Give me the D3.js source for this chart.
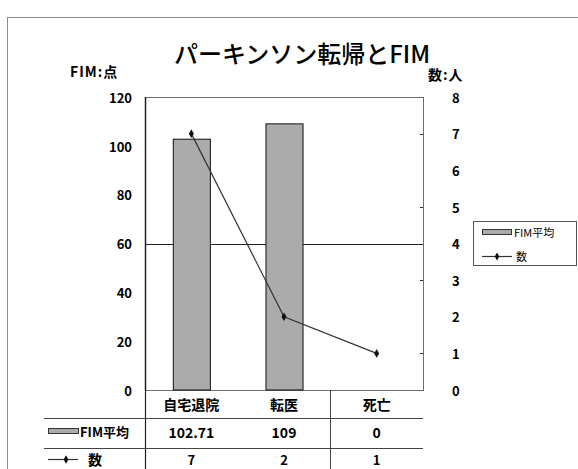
<!DOCTYPE html>
<html>
<head>
<meta charset="utf-8">
<script src="https://cdn.jsdelivr.net/npm/d3@7"></script>
<style>
  html, body { margin: 0; padding: 0; background: #fff; }
  svg { display: block; }
  text { font-family: "Noto Sans CJK JP", "Liberation Sans", sans-serif; fill: #000; }
</style>
</head>
<body>
<svg id="chart" width="578" height="469"></svg>
<script>
// Outcome categories, mean FIM score (bars, left axis) and patient count (line, right axis)
const categories = ["自宅退院", "転医", "死亡"];
const fimMean = [102.71, 109, 0];
const counts = [7, 2, 1];
const fimLabels = ["102.71", "109", "0"];
const leftTicks = [0, 20, 40, 60, 80, 100, 120];
const rightTicks = [0, 1, 2, 3, 4, 5, 6, 7, 8];
const rightMinorTicks = [1, 3, 5, 7];
const refLine = [60];

const svg = d3.select("#chart");
const plot = { left: 145, right: 423, top: 97, bottom: 390 };

// Outer chart frame
svg.append("rect")
  .attr("x", 7.5).attr("y", 17.5)
  .attr("width", 600).attr("height", 500)
  .attr("fill", "#fff").attr("stroke", "#8a8a8a").attr("stroke-width", 1);

// Title and axis unit captions
svg.append("text").attr("x", 302).attr("y", 63)
  .attr("text-anchor", "middle").attr("font-size", 24).attr("font-weight", 500)
  .text("パーキンソン転帰とFIM");
svg.append("text").attr("x", 70).attr("y", 77)
  .attr("font-size", 14).attr("font-weight", 700).attr("letter-spacing", 1).text("FIM:点");
svg.append("text").attr("x", 428).attr("y", 80)
  .attr("font-size", 14).attr("font-weight", 700).attr("letter-spacing", 1).text("数:人");

const x = d3.scaleBand().domain(categories).range([plot.left, plot.right]).padding(0);
const yL = d3.scaleLinear().domain([0, 120]).range([plot.bottom, plot.top]);
const yR = d3.scaleLinear().domain([0, 8]).range([plot.bottom, plot.top]);

// Plot area
svg.append("rect")
  .attr("x", plot.left + 0.5).attr("y", plot.top + 0.5)
  .attr("width", plot.right - plot.left).attr("height", plot.bottom - plot.top)
  .attr("fill", "#fff").attr("stroke", "#6e6e6e").attr("stroke-width", 1);
svg.append("line")
  .attr("x1", plot.left + 0.5).attr("x2", plot.left + 0.5)
  .attr("y1", plot.top).attr("y2", plot.bottom)
  .attr("stroke", "#222").attr("stroke-width", 1.5);

// Reference line at FIM 60
svg.selectAll(".ref").data(refLine).enter().append("line")
  .attr("x1", plot.left).attr("x2", plot.right)
  .attr("y1", d => Math.round(yL(d)) + 0.5).attr("y2", d => Math.round(yL(d)) + 0.5)
  .attr("stroke", "#222").attr("stroke-width", 1);

// Left axis labels
const leftAxis = d3.axisLeft(yL).tickValues(leftTicks).tickSize(0).tickPadding(13);
const gL = svg.append("g").attr("transform", `translate(${plot.left},0)`).call(leftAxis);
gL.select(".domain").remove();
gL.selectAll("text").attr("font-size", 13).attr("font-weight", 700)
  .attr("font-family", "Liberation Sans, Arial, sans-serif").attr("dy", "0.4em");

// Right axis labels with short inner marks at odd values
const rightAxis = d3.axisRight(yR).tickValues(rightTicks).tickSize(0).tickPadding(29);
const gR = svg.append("g").attr("transform", `translate(${plot.right},0)`).call(rightAxis);
gR.select(".domain").remove();
gR.selectAll("text").attr("font-size", 13).attr("font-weight", 700)
  .attr("font-family", "Liberation Sans, Arial, sans-serif").attr("dy", "0.4em");
svg.selectAll(".rtick").data(rightMinorTicks).enter().append("line")
  .attr("x1", plot.right - 3).attr("x2", plot.right)
  .attr("y1", d => Math.round(yR(d)) + 0.5).attr("y2", d => Math.round(yR(d)) + 0.5)
  .attr("stroke", "#333").attr("stroke-width", 1);

// FIM mean bars
const bw = x.bandwidth();
svg.selectAll(".bar").data(categories).enter().append("rect")
  .attr("x", (d) => x(d) + bw * 0.3 + 0.5)
  .attr("y", (d, i) => yL(fimMean[i]))
  .attr("width", bw * 0.4)
  .attr("height", (d, i) => plot.bottom - yL(fimMean[i]))
  .attr("fill", "#ababab").attr("stroke", "#111").attr("stroke-width", 1)
  .style("display", (d, i) => fimMean[i] > 0 ? null : "none");

// Patient count line with markers
const pts = categories.map((c, i) => [x(c) + bw / 2, yR(counts[i])]);
svg.append("path").attr("d", d3.line()(pts))
  .attr("fill", "none").attr("stroke", "#333").attr("stroke-width", 1.2);
svg.selectAll(".mk").data(pts).enter().append("path")
  .attr("d", d3.symbol(d3.symbolDiamond, 22)())
  .attr("transform", d => `translate(${d[0]},${d[1]})`)
  .attr("fill", "#111");

// Data table under the plot
const tbl = { left: 44, rowLine1: 418, rowLine2: 448 };
svg.append("line").attr("x1", plot.left + 0.5).attr("x2", plot.left + 0.5)
  .attr("y1", plot.bottom).attr("y2", 469).attr("stroke", "#222").attr("stroke-width", 1.2);
svg.append("line").attr("x1", Math.round(x(categories[2])) + 0.5).attr("x2", Math.round(x(categories[2])) + 0.5)
  .attr("y1", plot.bottom).attr("y2", 469).attr("stroke", "#444").attr("stroke-width", 1);
[tbl.rowLine1, tbl.rowLine2].forEach(yy => {
  svg.append("line").attr("x1", tbl.left).attr("x2", plot.right)
    .attr("y1", yy + 0.5).attr("y2", yy + 0.5).attr("stroke", "#444").attr("stroke-width", 1);
});

svg.selectAll(".cat").data(categories).enter().append("text")
  .attr("x", d => x(d) + bw / 2).attr("y", 410)
  .attr("text-anchor", "middle").attr("font-size", 14).attr("font-weight", 700)
  .text(d => d);
svg.selectAll(".fimv").data(fimLabels).enter().append("text")
  .attr("x", (d, i) => x(categories[i]) + bw / 2).attr("y", 438)
  .attr("text-anchor", "middle").attr("font-size", 14).attr("font-weight", 700)
  .attr("font-family", "Liberation Sans, Arial, sans-serif")
  .text(d => d);
svg.selectAll(".cntv").data(counts).enter().append("text")
  .attr("x", (d, i) => x(categories[i]) + bw / 2).attr("y", 465)
  .attr("text-anchor", "middle").attr("font-size", 13).attr("font-weight", 700)
  .attr("font-family", "Liberation Sans, Arial, sans-serif")
  .text(d => d);

// Row keys
svg.append("rect").attr("x", 48.5).attr("y", 428.5).attr("width", 30).attr("height", 5)
  .attr("fill", "#ababab").attr("stroke", "#333").attr("stroke-width", 1);
svg.append("text").attr("x", 80).attr("y", 437).attr("font-size", 13).attr("font-weight", 700)
  .text("FIM平均");
svg.append("line").attr("x1", 48).attr("x2", 78).attr("y1", 459.5).attr("y2", 459.5)
  .attr("stroke", "#333").attr("stroke-width", 1.2);
svg.append("path").attr("d", d3.symbol(d3.symbolDiamond, 20)())
  .attr("transform", "translate(66,459.5)").attr("fill", "#111");
svg.append("text").attr("x", 88).attr("y", 465).attr("font-size", 14).attr("font-weight", 700)
  .text("数");

// Legend
const lg = svg.append("g");
lg.append("rect").attr("x", 473.5).attr("y", 221.5).attr("width", 103).attr("height", 44)
  .attr("fill", "#fff").attr("stroke", "#555").attr("stroke-width", 1);
lg.append("rect").attr("x", 482.5).attr("y", 229.5).attr("width", 29).attr("height", 5)
  .attr("fill", "#ababab").attr("stroke", "#333").attr("stroke-width", 1);
lg.append("text").attr("x", 514).attr("y", 237).attr("font-size", 11).text("FIM平均");
lg.append("line").attr("x1", 482).attr("x2", 512).attr("y1", 256.5).attr("y2", 256.5)
  .attr("stroke", "#333").attr("stroke-width", 1.2);
lg.append("path").attr("d", d3.symbol(d3.symbolDiamond, 18)())
  .attr("transform", "translate(497,256.5)").attr("fill", "#111");
lg.append("text").attr("x", 516).attr("y", 261).attr("font-size", 11).text("数");
</script>
</body>
</html>
